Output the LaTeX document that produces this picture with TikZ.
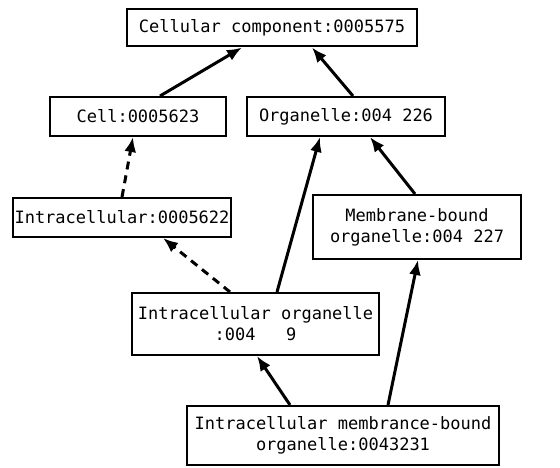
\documentclass[tikz,border=0pt]{standalone}
\usepackage{fontspec}
\setmonofont{DejaVu Sans Mono}
\usetikzlibrary{arrows.meta}
\tikzset{
  box/.style={draw, line width=2pt, fill=white, align=center, inner sep=0pt,
    font=\ttfamily\fontsize{17}{21}\selectfont},
  arr/.style={line width=3pt, -{Latex[length=15pt,width=12pt]}},
  darr/.style={arr, dash pattern=on 8pt off 6pt}
}
\begin{document}
\begin{tikzpicture}[x=1pt,y=-1pt]
\useasboundingbox (0,0) rectangle (560,468);
\node[box, minimum width=290pt, minimum height=37pt] (top) at (272,28) {Cellular component:0005575};
\node[box, minimum width=176pt, minimum height=39pt] (cell) at (138,116.5) {Cell:0005623};
\node[box, minimum width=198pt, minimum height=39pt] (org) at (346,116.5) {Organelle:004 226};
\node[box, minimum width=218pt, minimum height=39pt] (intra) at (122,217.5) {Intracellular:0005622};
\node[box, minimum width=208pt, minimum height=64pt] (mem) at (417,227) {Membrane-bound\\organelle:004 227};
\node[box, minimum width=247pt, minimum height=62pt] (io) at (255.5,324) {Intracellular organelle\\:004\ \ \ 9};
\node[box, minimum width=312pt, minimum height=59pt] (bot) at (343,435.5) {Intracellular membrance-bound\\organelle:0043231};
\draw[arr] ([xshift=22pt]cell.north) -- ([xshift=-30pt]top.south);
\draw[arr] ([xshift=7pt]org.north) -- ([xshift=40pt]top.south);
\draw[darr] (intra.north) -- ([xshift=-5pt]cell.south);
\draw[darr] ([xshift=-25.5pt]io.north) -- ([xshift=41pt]intra.south);
\draw[arr] ([xshift=21.5pt]io.north) -- ([xshift=-26pt]org.south);
\draw[arr] ([xshift=-2pt]mem.north) -- ([xshift=24pt]org.south);
\draw[arr] ([xshift=-53pt]bot.north) -- ([xshift=1.5pt]io.south);
\draw[arr] ([xshift=45pt]bot.north) -- ([xshift=1pt]mem.south);
\end{tikzpicture}
\end{document}
